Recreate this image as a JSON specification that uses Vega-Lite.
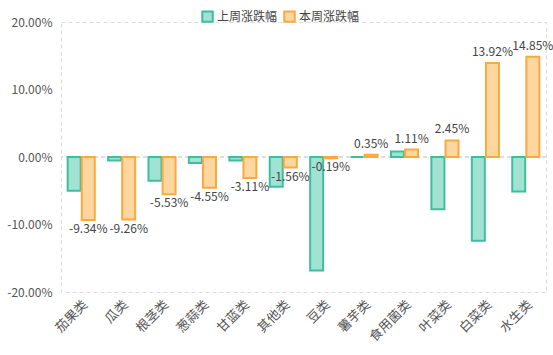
{
  "$schema": "https://vega.github.io/schema/vega-lite/v6.json",
  "autosize": "none",
  "width": 485,
  "height": 270,
  "padding": {"left": 61, "top": 22, "right": 7, "bottom": 63},
  "config": {
    "font": "Noto Sans CJK SC",
    "view": {"stroke": "#dddddd", "strokeDash": [4, 3], "strokeWidth": 1},
    "axis": {"labelFont": "Noto Sans CJK SC", "labelColor": "#555555", "labelFontSize": 12}
  },
  "data": {
    "values": [
      {"cat": "茄果类", "series": "上周涨跌幅", "v": -5.0},
      {"cat": "茄果类", "series": "本周涨跌幅", "v": -9.34},
      {"cat": "瓜类", "series": "上周涨跌幅", "v": -0.5},
      {"cat": "瓜类", "series": "本周涨跌幅", "v": -9.26},
      {"cat": "根茎类", "series": "上周涨跌幅", "v": -3.5},
      {"cat": "根茎类", "series": "本周涨跌幅", "v": -5.53},
      {"cat": "葱蒜类", "series": "上周涨跌幅", "v": -0.9},
      {"cat": "葱蒜类", "series": "本周涨跌幅", "v": -4.55},
      {"cat": "甘蓝类", "series": "上周涨跌幅", "v": -0.5},
      {"cat": "甘蓝类", "series": "本周涨跌幅", "v": -3.11},
      {"cat": "其他类", "series": "上周涨跌幅", "v": -4.4},
      {"cat": "其他类", "series": "本周涨跌幅", "v": -1.56},
      {"cat": "豆类", "series": "上周涨跌幅", "v": -16.8},
      {"cat": "豆类", "series": "本周涨跌幅", "v": -0.19},
      {"cat": "薯芋类", "series": "上周涨跌幅", "v": 0.0},
      {"cat": "薯芋类", "series": "本周涨跌幅", "v": 0.35},
      {"cat": "食用菌类", "series": "上周涨跌幅", "v": 0.8},
      {"cat": "食用菌类", "series": "本周涨跌幅", "v": 1.11},
      {"cat": "叶菜类", "series": "上周涨跌幅", "v": -7.75},
      {"cat": "叶菜类", "series": "本周涨跌幅", "v": 2.45},
      {"cat": "白菜类", "series": "上周涨跌幅", "v": -12.4},
      {"cat": "白菜类", "series": "本周涨跌幅", "v": 13.92},
      {"cat": "水生类", "series": "上周涨跌幅", "v": -5.1},
      {"cat": "水生类", "series": "本周涨跌幅", "v": 14.85}
    ]
  },
  "encoding": {
    "x": {
      "field": "cat", "type": "nominal", "sort": null,
      "scale": {"paddingInner": 0.33, "paddingOuter": 0.165},
      "axis": {"title": null, "labelAngle": -45, "domain": false, "ticks": false, "labelPadding": 6, "labelFontSize": 13}
    },
    "xOffset": {
      "field": "series", "type": "nominal",
      "sort": ["上周涨跌幅", "本周涨跌幅"],
      "scale": {"paddingInner": 0.08}
    }
  },
  "layer": [
    {
      "mark": {"type": "rule", "color": "#dddddd", "strokeDash": [4, 3]},
      "encoding": {"y": {"datum": 0, "type": "quantitative"}, "x": null, "xOffset": null}
    },
    {
      "mark": {"type": "bar", "strokeWidth": 2},
      "encoding": {
        "y": {
          "field": "v", "type": "quantitative",
          "scale": {"domain": [-20, 20], "nice": false},
          "axis": {
            "title": null, "grid": false, "domain": false, "ticks": false,
            "values": [-20, -15, -10, -5, 0, 5, 10, 15, 20],
            "labelExpr": "replace(format(datum.value, '.2f'), '\u2212', '-') + '%'",
            "labelPadding": 9
          }
        },
        "fill": {
          "field": "series", "type": "nominal",
          "sort": ["上周涨跌幅", "本周涨跌幅"],
          "scale": {"domain": ["上周涨跌幅", "本周涨跌幅"], "range": ["#a2e2d2", "#fed6a0"]},
          "legend": {
            "title": null, "orient": "none", "direction": "horizontal",
            "legendX": 140, "legendY": -12,
            "symbolType": "square", "symbolSize": 110, "symbolStrokeWidth": 2,
            "labelFontSize": 12, "labelColor": "#444444", "columnPadding": 2, "labelOffset": 3
          }
        },
        "stroke": {
          "field": "series", "type": "nominal",
          "sort": ["上周涨跌幅", "本周涨跌幅"],
          "scale": {"domain": ["上周涨跌幅", "本周涨跌幅"], "range": ["#3dbf9f", "#f9a940"]},
          "legend": {
            "title": null, "orient": "none", "direction": "horizontal",
            "legendX": 140, "legendY": -12,
            "symbolType": "square", "symbolSize": 110, "symbolStrokeWidth": 2,
            "labelFontSize": 12, "labelColor": "#444444", "columnPadding": 2, "labelOffset": 3
          }
        }
      }
    },
    {
      "transform": [
        {"filter": "datum.series == '本周涨跌幅' && datum.v >= 0"},
        {"calculate": "replace(format(datum.v, '.2f'), '\u2212', '-') + '%'", "as": "lbl"}
      ],
      "mark": {"type": "text", "baseline": "bottom", "dy": -4, "fontSize": 12, "color": "#444444"},
      "encoding": {
        "y": {"field": "v", "type": "quantitative"},
        "text": {"field": "lbl", "type": "nominal"},
        "xOffset": {"datum": "本周涨跌幅"}
      }
    },
    {
      "transform": [
        {"filter": "datum.series == '本周涨跌幅' && datum.v < 0"},
        {"calculate": "replace(format(datum.v, '.2f'), '\u2212', '-') + '%'", "as": "lbl"}
      ],
      "mark": {"type": "text", "baseline": "top", "dy": 4, "fontSize": 12, "color": "#444444"},
      "encoding": {
        "y": {"field": "v", "type": "quantitative"},
        "text": {"field": "lbl", "type": "nominal"},
        "xOffset": {"datum": "本周涨跌幅"}
      }
    }
  ]
}
